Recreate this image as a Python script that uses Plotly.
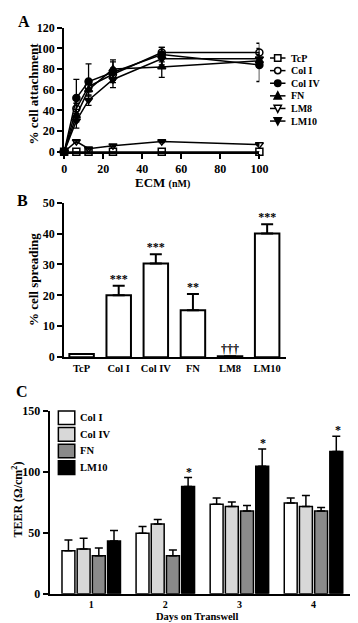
import plotly.graph_objects as go

W, H = 358, 623
def py(p):
    return 1 - p / H
def px(p):
    return p / W

FONT = "Liberation Serif, Times New Roman, serif"

# ---------- Panel A data ----------
ecm_nM = [0, 6.25, 12.5, 25, 50, 100]
att_names = ["TcP", "Col I", "Col IV", "FN", "LM8", "LM10"]
att_tcp = [0, 0, 0, 0, 0, 0]
att_tcp_err = [0, 0, 0, 0, 0, 0]
att_col1 = [0, 42, 63, 75, 96, 96]
att_col1_err = [0, 5, 5, 6, 5, 9]
att_col4 = [0, 52, 68, 77, 94, 84]
att_col4_err = [0, 18, 17, 10, 7, 16]
att_fn = [0, 35, 60, 80, 82, 88]
att_fn_err = [0, 6, 6, 9, 10, 6]
att_lm8 = [0, 10, 3, 6, 10, 7]
att_lm8_err = [0, 1, 1, 1, 1, 1]
att_lm10 = [0, 30, 50, 70, 90, 90]
att_lm10_err = [0, 7, 5, 8, 6, 6]
att_symbols = ["square-open", "circle-open", "circle", "triangle-up",
               "triangle-down-open", "triangle-down"]

# ---------- Panel B data ----------
spread_cats = ["TcP", "Col I", "Col IV", "FN", "LM8", "LM10"]
spread_vals = [1.0, 20.0, 30.3, 15.2, 0.3, 40.0]
spread_err = [0, 3.1, 3.0, 5.2, 0, 3.0]
spread_sig = ["", "***", "***", "**", "†††", "***"]

# ---------- Panel C data ----------
days = [1, 2, 3, 4]
teer_names = ["Col I", "Col IV", "FN", "LM10"]
teer_col1 = [35.2, 49.6, 73.4, 74.5]
teer_col1_err = [8.8, 5.6, 5.1, 4.0]
teer_col4 = [36.6, 57.1, 71.5, 71.5]
teer_col4_err = [9.0, 3.7, 3.8, 9.1]
teer_fn = [31.2, 31.2, 67.8, 67.8]
teer_fn_err = [6.2, 4.6, 4.5, 2.9]
teer_lm10 = [43.2, 88.0, 104.6, 116.6]
teer_lm10_err = [8.6, 7.3, 14.2, 12.6]
teer_sig = ["", "*", "*", "*"]
teer_colors = ["#ffffff", "#d8d8d8", "#8a8a8a", "#000000"]

fig = go.Figure()

# Panel A traces
att_series = [att_tcp, att_col1, att_col4, att_fn, att_lm8, att_lm10]
att_errs = [att_tcp_err, att_col1_err, att_col4_err, att_fn_err, att_lm8_err, att_lm10_err]
for name, ys, es, sym in zip(att_names, att_series, att_errs, att_symbols):
    fig.add_trace(go.Scatter(
        x=ecm_nM, y=ys, name=name, mode="lines+markers",
        line=dict(color="black", width=1.5),
        marker=dict(symbol=sym, size=7, color="black",
                    line=dict(color="black", width=1.5)),
        error_y=dict(type="data", array=es, color="black", thickness=1.3, width=3),
        cliponaxis=False, xaxis="x", yaxis="y", showlegend=False))

# Panel B
fig.add_trace(go.Bar(
    x=spread_cats, y=spread_vals, width=0.66,
    marker=dict(color="white", line=dict(color="black", width=2)),
    error_y=dict(type="data", symmetric=False, array=spread_err,
                 arrayminus=[0] * len(spread_err), color="black", thickness=2, width=6),
    showlegend=False, xaxis="x2", yaxis="y2"))
# significance marks B (text trace placed at bar top + error)
fig.add_trace(go.Scatter(
    x=spread_cats, y=[v + e for v, e in zip(spread_vals, spread_err)],
    text=["<b>%s</b>" % s for s in spread_sig], mode="text", textposition="top center",
    textfont=dict(family=FONT, size=12, color="black"), cliponaxis=False,
    showlegend=False, hoverinfo="skip", xaxis="x2", yaxis="y2"))

# Panel C
teer_series = [teer_col1, teer_col4, teer_fn, teer_lm10]
teer_errs = [teer_col1_err, teer_col4_err, teer_fn_err, teer_lm10_err]
for name, ys, es, col in zip(teer_names, teer_series, teer_errs, teer_colors):
    fig.add_trace(go.Bar(
        x=days, y=ys, name=name, offsetgroup=name,
        marker=dict(color=col, line=dict(color="black", width=1.5)),
        error_y=dict(type="data", symmetric=False, array=es,
                     arrayminus=[0] * len(es), color="black", thickness=1.5, width=4),
        xaxis="x3", yaxis="y3", showlegend=False))

annotations = []
shapes = []
# significance marks C
for d, v, e, s in zip(days, teer_lm10, teer_lm10_err, teer_sig):
    if s:
        annotations.append(dict(x=d, y=v + e, xref="x3", yref="y3", text="<b>%s</b>" % s,
                                showarrow=False, xanchor="center", yanchor="bottom",
                                xshift=24, yshift=-3,
                                font=dict(size=12, family=FONT, color="black")))

def pa(x, y, text, size, angle=0, xanchor="center"):
    annotations.append(dict(x=px(x), y=py(y), xref="paper", yref="paper", text=text,
                            showarrow=False, textangle=angle, xanchor=xanchor,
                            yanchor="middle",
                            font=dict(size=size, family=FONT, color="black")))

pa(13, 7, "<b>A</b>", 16)
pa(12, 190, "<b>B</b>", 16)
pa(11, 385, "<b>C</b>", 16)
pa(157, 171, "<b>ECM <span style='font-size:10px'>(nM)</span></b>", 13)
pa(23, 80, "<b>% cell attachment</b>", 13, -90)
pa(24, 271, "<b>% cell spreading</b>", 13, -90)
pa(7, 496, "<b>TEER (Ω/cm<sup>2</sup>)</b>", 12, -90)
pa(193, 615, "<b>Days on Transwell</b>", 10.5)

# ---------- Legend A (drawn in page coordinates) ----------
LA_X0, LA_X1, LA_MX, LA_TX, LA_Y0, LA_DY, LA_R = 268, 284, 276, 288, 44, 12.9, 3.3

def pth(points):
    return "M " + " L ".join("%f,%f" % (px(x), py(y)) for x, y in points) + " Z"

for i, (name, sym) in enumerate(zip(att_names, att_symbols)):
    yc = LA_Y0 + i * LA_DY
    shapes.append(dict(type="line", xref="paper", yref="paper", x0=px(LA_X0), x1=px(LA_X1),
                       y0=py(yc), y1=py(yc), line=dict(color="black", width=1.5)))
    filled = not sym.endswith("open")
    fill = "black" if filled else "white"
    r = LA_R
    base = dict(xref="paper", yref="paper", fillcolor=fill, line=dict(color="black", width=1.5))
    if sym.startswith("square"):
        shapes.append(dict(type="rect", x0=px(LA_MX - r), x1=px(LA_MX + r),
                           y0=py(yc + r), y1=py(yc - r), **base))
    elif sym.startswith("circle"):
        shapes.append(dict(type="circle", x0=px(LA_MX - r), x1=px(LA_MX + r),
                           y0=py(yc + r), y1=py(yc - r), **base))
    elif sym.startswith("triangle-up"):
        shapes.append(dict(type="path", path=pth([(LA_MX, yc - r - 0.7), (LA_MX + r + 0.5, yc + r),
                                                   (LA_MX - r - 0.5, yc + r)]), **base))
    else:
        shapes.append(dict(type="path", path=pth([(LA_MX, yc + r + 0.7), (LA_MX + r + 0.5, yc - r),
                                                   (LA_MX - r - 0.5, yc - r)]), **base))
    pa(LA_TX, yc, "<b>%s</b>" % name, 10, xanchor="left")

# ---------- Legend C ----------
LC_X0, LC_X1, LC_TX, LC_Y0, LC_DY, LC_BH = 49, 66, 69, 405, 17, 14
for i, (name, col) in enumerate(zip(teer_names, teer_colors)):
    y0 = LC_Y0 + i * LC_DY
    shapes.append(dict(type="rect", xref="paper", yref="paper", x0=px(LC_X0), x1=px(LC_X1),
                       y0=py(y0 + LC_BH), y1=py(y0), fillcolor=col,
                       line=dict(color="black", width=1.5)))
    pa(LC_TX, y0 + LC_BH / 2, "<b>%s</b>" % name, 10.5, xanchor="left")

axis_common = dict(showline=True, linecolor="black", linewidth=2, ticks="outside",
                   tickcolor="black", tickwidth=2, ticklen=5, showgrid=False,
                   zeroline=False, tickfont=dict(family=FONT, size=12, color="black"))

fig.update_layout(
    width=W, height=H, margin=dict(l=0, r=0, t=0, b=0),
    paper_bgcolor="white", plot_bgcolor="white",
    font=dict(family=FONT, color="black"),
    barmode="group", bargap=0.18, bargroupgap=0.15,
    annotations=annotations, shapes=shapes, showlegend=False,
    xaxis=dict(domain=[px(55), px(257)], range=[0, 100], tickvals=[0, 20, 40, 60, 80, 100],
               ticktext=["<b>%d</b>" % v for v in [0, 20, 40, 60, 80, 100]],
               anchor="y", **axis_common),
    yaxis=dict(domain=[py(140), py(13)], range=[0, 120], tickvals=[0, 20, 40, 60, 80, 100, 120],
               ticktext=["<b>%d</b>" % v for v in [0, 20, 40, 60, 80, 100, 120]],
               anchor="x", **axis_common),
    xaxis2=dict(domain=[px(55), px(285)], range=[-0.47, 5.52], type="category",
                tickvals=spread_cats, ticktext=["<b>%s</b>" % c for c in spread_cats],
                anchor="y2", **{**axis_common, "ticks": "",
                                "tickfont": dict(family=FONT, size=10.5, color="black")}),
    yaxis2=dict(domain=[py(350), py(192)], range=[0, 50], tickvals=[0, 10, 20, 30, 40, 50],
                ticktext=["<b>%d</b>" % v for v in [0, 10, 20, 30, 40, 50]],
                anchor="x2", **axis_common),
    xaxis3=dict(domain=[px(40), 1.0], range=[0.439, 4.587], tickvals=days,
                ticktext=["<b>%d</b>" % d for d in days],
                anchor="y3", **{**axis_common, "ticks": "",
                                "tickfont": dict(family=FONT, size=10, color="black")}),
    yaxis3=dict(domain=[py(592), py(405)], range=[0, 150], tickvals=[0, 50, 100, 150],
                ticktext=["<b>%d</b>" % v for v in [0, 50, 100, 150]],
                anchor="x3", **axis_common),
)

fig.write_html("out.html")
